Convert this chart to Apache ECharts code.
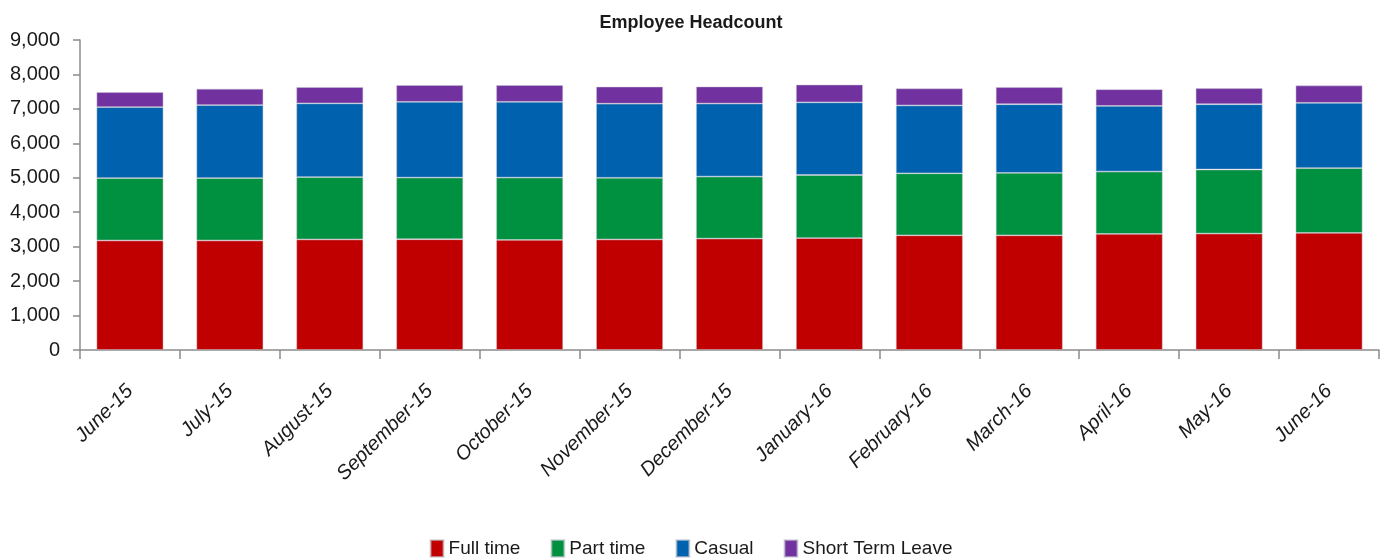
<!DOCTYPE html>
<html>
<head>
<meta charset="utf-8">
<script src="https://cdn.jsdelivr.net/npm/echarts@6/dist/echarts.min.js"></script>
<style>
html,body{margin:0;padding:0;background:#fff;}
#c{width:1382px;height:559px;}
</style>
</head>
<body>
<div id="c"></div>
<script>
const categories = ["June-15","July-15","August-15","September-15","October-15","November-15","December-15","January-16","February-16","March-16","April-16","May-16","June-16"];
const fullTime = [3180,3180,3210,3215,3195,3210,3235,3250,3330,3330,3370,3380,3400];
const partTime = [1810,1810,1810,1790,1810,1790,1800,1830,1800,1810,1810,1860,1880];
const casual = [2060,2120,2140,2200,2200,2150,2120,2110,1970,1995,1905,1895,1895];
const shortTermLeave = [435,475,475,485,485,495,495,515,495,495,485,465,505];
const yTicks = [0,1000,2000,3000,4000,5000,6000,7000,8000,9000];

const font = "'Liberation Sans', Arial, sans-serif";
const axisGrey = '#8c8c8c';
const seriesDefs = [
  {name:'Full time', data: fullTime, color:'#C00000'},
  {name:'Part time', data: partTime, color:'#009140'},
  {name:'Casual', data: casual, color:'#0062AE'},
  {name:'Short Term Leave', data: shortTermLeave, color:'#7132A0'}
];

const chart = echarts.init(document.getElementById('c'), null, {renderer:'canvas'});
chart.setOption({
  animation:false,
  backgroundColor:'#fff',
  title:{
    text:'Employee Headcount',
    left:'center',
    top:9,
    textStyle:{fontFamily:font, fontSize:18, fontWeight:'bold', color:'#1a1a1a'}
  },
  legend:{
    top:534,
    left:'center',
    itemWidth:13,
    itemHeight:17,
    itemGap:30,
    icon:'rect',
    textStyle:{fontFamily:font, fontSize:19, color:'#1a1a1a'},
    data: seriesDefs.map(s=>s.name)
  },
  grid:{left:80, right:3, top:40, bottom:209, containLabel:false},
  xAxis:{
    type:'category',
    data:categories,
    boundaryGap:true,
    axisLine:{show:true, lineStyle:{color:axisGrey, width:1.5}},
    axisTick:{show:true, length:9, lineStyle:{color:axisGrey, width:1.5}},
    axisLabel:{
      rotate:45,
      interval:0,
      margin:38,
      fontFamily:font,
      fontSize:20,
      fontStyle:'italic',
      color:'#1a1a1a'
    }
  },
  yAxis:{
    type:'value',
    min:yTicks[0],
    max:yTicks[yTicks.length-1],
    interval:1000,
    splitLine:{show:false},
    axisLine:{show:true, lineStyle:{color:axisGrey, width:1.5}},
    axisTick:{show:true, length:7, lineStyle:{color:axisGrey, width:1.5}},
    axisLabel:{
      margin:20,
      fontFamily:font,
      fontSize:20,
      color:'#1a1a1a',
      formatter: v => v.toLocaleString('en-US')
    }
  },
  series: seriesDefs.map(s=>({
    name:s.name,
    type:'bar',
    stack:'total',
    data:s.data,
    barWidth:'67%',
    itemStyle:{color:s.color, borderColor:'rgba(200,200,210,0.6)', borderWidth:0.8},
    emphasis:{disabled:true}
  }))
});
</script>
</body>
</html>
